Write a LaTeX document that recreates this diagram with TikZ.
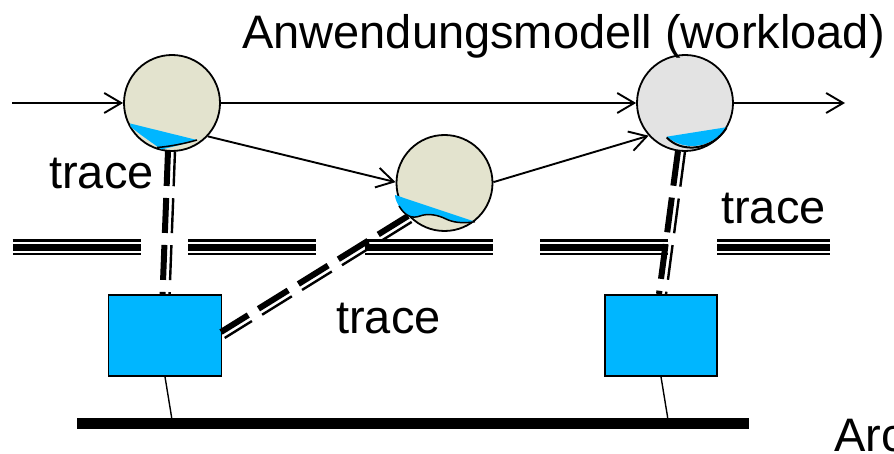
\documentclass[tikz,border=0pt]{standalone}
\usepackage{fontspec}
\setmainfont{Liberation Sans}
\usetikzlibrary{arrows.meta,calc}

\definecolor{shell}{RGB}{227,227,206}
\definecolor{shellgray}{RGB}{227,227,227}
\definecolor{water}{RGB}{0,182,255}

\tikzset{
  proc/.style={circle, draw, line width=1.8pt, minimum size=96pt, inner sep=0pt},
  flow/.style={line width=1.9pt, -{Straight Barb[length=17pt,width=20pt]}},
  host/.style={draw, line width=1.6pt, fill=water, minimum height=81pt, inner sep=0pt},
  lbl/.style={font=\fontsize{47}{50}\selectfont, inner sep=0pt, anchor=base west},
  tracethick/.style={line width=6pt, dash pattern=on 35pt off 12pt},
  tracethin/.style={line width=2.4pt, dash pattern=on 35pt off 12pt},
  rail/.style={line width=16pt},
  railgap/.style={white, line width=2pt},
  bowl/.style={line width=1.5pt},
  tap/.style={line width=1.4pt},
}

\begin{document}
\begin{tikzpicture}[x=1pt,y=-1pt]
\useasboundingbox (0,0) rectangle (894,454);

% layer boundary: triple rails
\foreach \a/\b in {12.7/140.7, 188/316, 365/493, 540/668, 717/830}{
  \draw[rail] (\a,247.3) -- (\b,247.3);
  \draw[railgap] (\a,243) -- (\b,243);
  \draw[railgap] (\a,251.8) -- (\b,251.8);
}

% hosts and bus
\node[host, minimum width=113pt] (box1) at (165,335.5) {};
\node[host, minimum width=112pt] (box2) at (661,335.5) {};
\node[fill=black, minimum width=672pt, minimum height=11pt, inner sep=0pt] (bus) at (413,423.3) {};
\coordinate (tap1) at (171.7,417.8);
\coordinate (tap2) at (667.7,417.8);
\draw[tap] (box1.south) -- (tap1);
\draw[tap] (box2.south) -- (tap2);

% trace connectors (end points)
\coordinate (t1a) at (168,151);
\coordinate (t1b) at (162.5,295);
\coordinate (t2a) at (408,216);
\coordinate (t2b) at (221,332);
\coordinate (t3a) at (678,151);
\coordinate (t3b) at (659,294);
\foreach \p/\q in {t1a/t1b, t2a/t2b, t3a/t3b}{
  \draw[tracethick] (\p) -- (\q);
  \draw[tracethin] ($(\p)!7pt!90:(\q)$) -- ($(\q)!7pt!-90:(\p)$);
}

% processes
\node[proc, fill=shell] (c1) at (172,103) {};
\node[proc, fill=shell] (c2) at (444.5,183) {};
\node[proc, fill=shellgray] (c3) at (685,103) {};

% liquid levels inside the processes
\fill[water] (130.2,123.5) -- (197,140)
  .. controls (186,143.5) and (172,147) .. (161.5,149.5)
  .. controls (151,142) and (139,134) .. (130.5,126.5) -- cycle;
\draw[bowl] (157,147.5) .. controls (170,146.5) and (185,143.5) .. (197,140);

\fill[water] (395,195) -- (475,221.7)
  .. controls (462,224) and (452,222) .. (446,219)
  .. controls (438,215) and (428,213) .. (420,216)
  .. controls (412,219) and (405,216) .. (400,208)
  .. controls (397,203) and (395,199) .. cycle;
\draw[bowl] (399,206) .. controls (405,216) and (412,219) .. (420,216)
  .. controls (428,213) and (438,215) .. (446,219)
  .. controls (452,222) and (462,224) .. (475,221.7);

\fill[water] (666.7,136.7) -- (726,127.3)
  .. controls (718,140) and (705,146) .. (692,146)
  .. controls (682,146) and (673,142) .. cycle;
\draw[line width=2pt] (666.7,137.5) .. controls (674,145) and (683,148) .. (694,147.5)
  .. controls (710,146) and (720,138) .. (726.5,128);

% workload flow
\coordinate (src) at (12,103);
\coordinate (sink) at (845,103);
\draw[flow] (src) -- (c1.west);
\draw[flow] (c1.east) -- (c3.west);
\draw[flow] (c1.-43) -- (c2.179);
\draw[flow] (c2.1) -- (c3.222);
\draw[flow] (c3.east) -- (sink);

% labels
\node[lbl] (title) at (242,48.7) {Anwendungsmodell (workload)};
\node[lbl] (tr1) at (49,189) {trace};
\node[lbl] (tr2) at (336,333) {trace};
\node[lbl] (tr3) at (721,223.5) {trace};
\node[lbl] (arch) at (834,451) {Arc};
\end{tikzpicture}
\end{document}
